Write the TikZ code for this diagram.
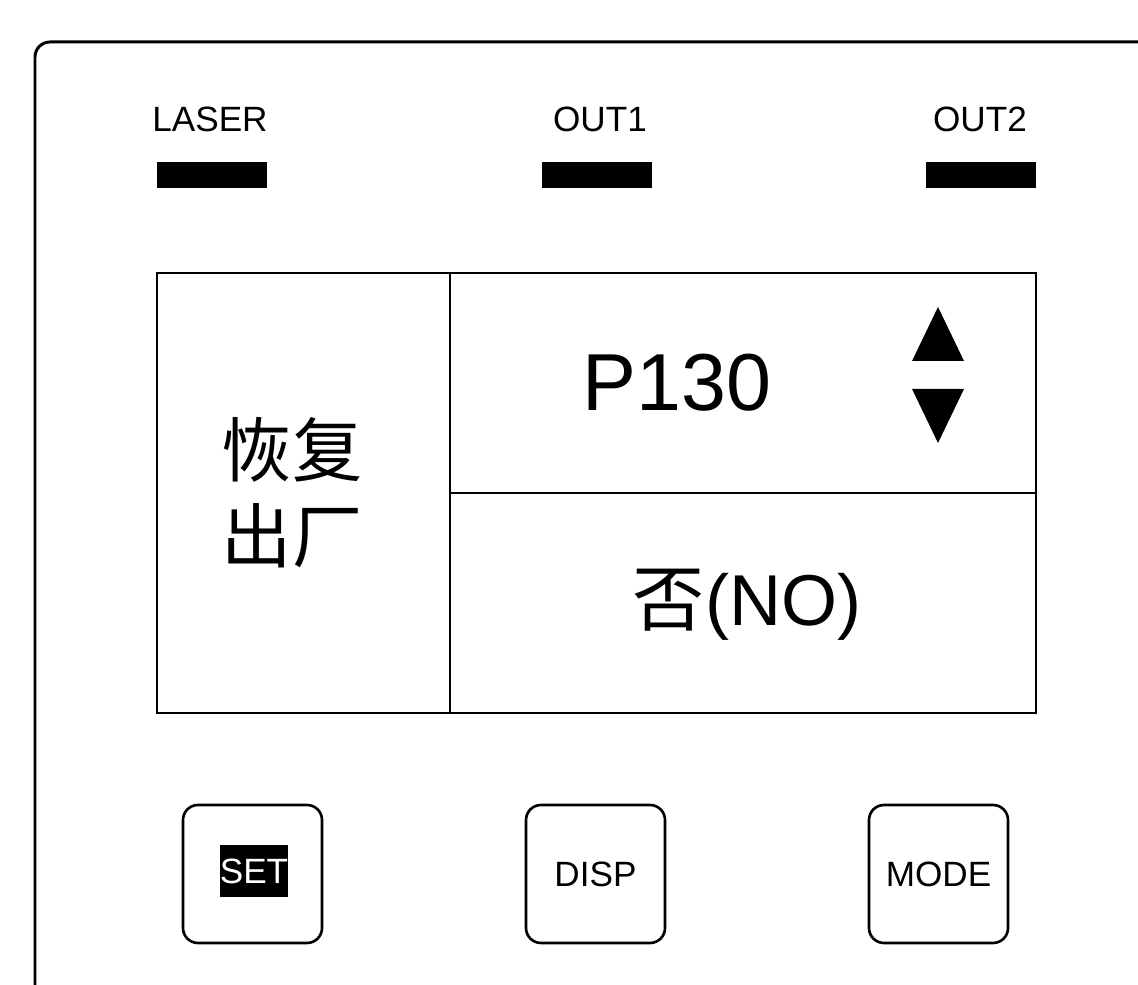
\documentclass[tikz,border=0pt]{standalone}
\usepackage{fontspec}
\setmainfont{Liberation Sans}
\newfontfamily\cjk{Noto Sans CJK SC}
\tikzset{
  ledbar/.style={fill=black,minimum width=1.1cm,minimum height=0.26cm,inner sep=0pt},
  ledlabel/.style={font=\fontsize{10}{12}\selectfont},
  keybox/.style={draw,line width=0.75pt,rounded corners=0.15cm,minimum width=1.39cm,minimum height=1.38cm,font=\fontsize{10}{12}\selectfont},
}
\begin{document}
\begin{tikzpicture}
\useasboundingbox (0,0) rectangle (11.38,9.85);
\clip (0,0) rectangle (11.38,9.85);
% housing
\draw [line width=0.85pt,rounded corners=0.15cm] (0.35,-0.5) -- (0.35,9.43) -- (12.0,9.43);
% indicator lamps
\node (laser) [ledbar] at (2.12,8.10) {};
\node (out1) [ledbar] at (5.97,8.10) {};
\node (out2) [ledbar] at (9.81,8.10) {};
\node (laserlbl) [ledlabel] at (2.10,8.66) {LASER};
\node (out1lbl) [ledlabel] at (6.00,8.66) {OUT1};
\node (out2lbl) [ledlabel] at (9.80,8.66) {OUT2};
% display
\draw [line width=0.75pt] (1.57,7.12) rectangle (10.36,2.72);
\draw [line width=0.75pt] (4.50,7.12) -- (4.50,2.72);
\draw [line width=0.75pt] (4.50,4.92) -- (10.36,4.92);
\node (menu) [align=center,font=\cjk\fontsize{20}{24.5}\selectfont] at (2.92,4.92) {恢复\\出厂};
\node (param) [font=\fontsize{23}{27}\selectfont] at (6.77,6.02) {P130};
\node (value) [font=\fontsize{20.5}{24}\selectfont] at (7.47,3.80) {{\cjk 否}(NO)};
\fill (9.12,6.24) -- (9.64,6.24) -- (9.38,6.78) -- cycle;
\fill (9.12,5.96) -- (9.64,5.96) -- (9.38,5.42) -- cycle;
% keys
\node (set) [keybox] at (2.525,1.11) {};
\node (setlbl) [fill=black,text=white,inner sep=0pt,minimum width=0.68cm,minimum height=0.52cm,font=\fontsize{10}{12}\selectfont] at (2.54,1.14) {SET};
\node (disp) [keybox] at (5.955,1.11) {DISP};
\node (mode) [keybox] at (9.385,1.11) {MODE};
\end{tikzpicture}
\end{document}
